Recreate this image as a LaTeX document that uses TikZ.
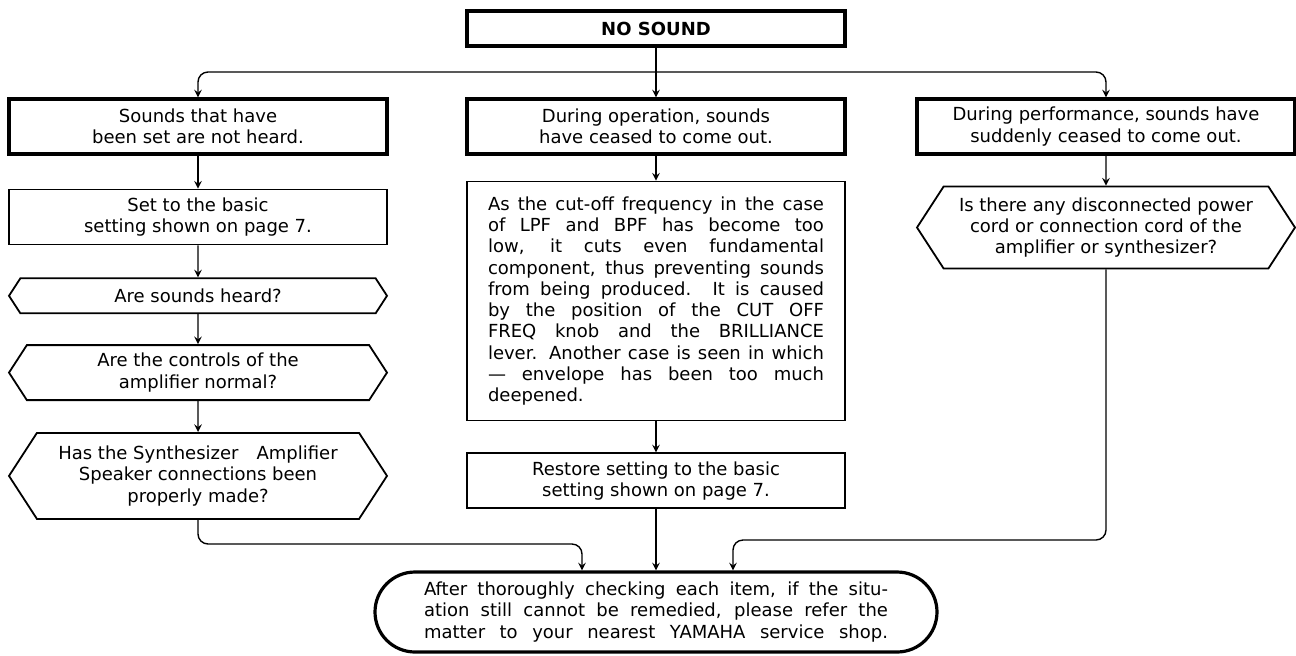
\documentclass[tikz,border=0pt]{standalone}
\usepackage{fontspec}
\setmainfont{DejaVu Sans}
\usepackage{tikz}
\usetikzlibrary{shapes.symbols, arrows, positioning}

\newcommand{\fitline}[2][168pt]{\makebox[#1][s]{#2}}

\begin{document}
\begin{tikzpicture}[
    node distance=15.5pt,
    font=\fontsize{9}{10.65}\selectfont,
    plainbox/.style={rectangle, draw, line width=0.9pt, minimum width=189pt, minimum height=27.5pt, align=center, inner sep=2pt},
    headbox/.style={plainbox, line width=1.6pt},
    query/.style={signal, signal to=west and east, signal pointer angle=114, draw, line width=0.9pt, minimum width=189pt, align=center, inner sep=2pt},
    finalbox/.style={rectangle, rounded corners=20pt, draw, line width=1.6pt, minimum width=281pt, minimum height=40pt, align=center, inner sep=2pt},
    arrow/.style={->, >=stealth, line width=0.7pt}]

    \useasboundingbox (0,0) rectangle (648pt,-327.5pt);

    % Top: problem
    \node[headbox, minimum height=17.5pt] (nosound) at (328pt,-14.25pt) {\bfseries NO SOUND};

    % Row 1: three cases
    \node[headbox] (notheard) at (99pt,-63.25pt) {Sounds that have\\been set are not heard.};
    \node[headbox] (ceased) at (328pt,-63.25pt) {During operation, sounds\\have ceased to come out.};
    \node[headbox] (sudden) at (553pt,-63.25pt) {During performance, sounds have\\suddenly ceased to come out.};

    % Left column
    \node[plainbox, below=16.5pt of notheard] (basic) {Set to the basic\\setting shown on page 7.};
    \node[query, minimum height=17.5pt, below=16pt of basic] (qheard) {Are sounds heard?};
    \node[query, minimum height=27.5pt, below=15pt of qheard] (qcontrols) {Are the controls of the\\amplifier normal?};
    \node[query, minimum height=43pt, below=15.5pt of qcontrols] (qconnect) {Has the Synthesizer\quad Amplifier\\Speaker connections been\\properly made?};

    % Middle column
    \node[plainbox, minimum height=119.5pt, below=12.5pt of ceased] (cutoff) {%
        \fitline{As the cut-off frequency in the case}\\
        \fitline{of LPF and BPF has become too}\\
        \fitline{low, it cuts even fundamental}\\
        \fitline{component, thus preventing sounds}\\
        \fitline{from being produced. It is caused}\\
        \fitline{by the position of the CUT OFF}\\
        \fitline{FREQ knob and the BRILLIANCE}\\
        \fitline{lever. Another case is seen in which}\\
        \fitline{--- envelope has been too much}\\
        \makebox[168pt][l]{deepened.}};
    \node[plainbox, below=15.5pt of cutoff] (restore) {Restore setting to the basic\\setting shown on page 7.};

    % Right column
    \node[query, minimum height=41pt, below=15pt of sudden] (qcord) {Is there any disconnected power\\cord or connection cord of the\\amplifier or synthesizer?};

    % Bottom: final advice
    \node[finalbox] (shop) at (328pt,-306pt) {%
        \fitline[232pt]{After thoroughly checking each item, if the situ-}\\
        \fitline[232pt]{ation still cannot be remedied, please refer the}\\
        \fitline[232pt]{matter to your nearest YAMAHA service shop.}};

    % Branching from the top
    \coordinate (split) at (328pt,-36pt);
    \draw[arrow] (nosound) -- (ceased);
    \draw[arrow, rounded corners=5pt] (split) -| (notheard.north);
    \draw[arrow, rounded corners=5pt] (split) -| (sudden.north);

    % Left column arrows
    \draw[arrow] (notheard) -- (basic);
    \draw[arrow] (basic) -- (qheard);
    \draw[arrow] (qheard) -- (qcontrols);
    \draw[arrow] (qcontrols) -- (qconnect);

    % Middle and right column arrows
    \draw[arrow] (ceased) -- (cutoff);
    \draw[arrow] (cutoff) -- (restore);
    \draw[arrow] (sudden) -- (qcord);

    % Merging into the final box
    \coordinate (mergeL) at (291pt,-272pt);
    \coordinate (mergeR) at (366.5pt,-270pt);
    \draw[arrow, rounded corners=5pt] (qconnect.south) |- (mergeL) -- (mergeL |- shop.north);
    \draw[arrow] (restore) -- (shop);
    \draw[arrow, rounded corners=5pt] (qcord.south) |- (mergeR) -- (mergeR |- shop.north);
\end{tikzpicture}
\end{document}
